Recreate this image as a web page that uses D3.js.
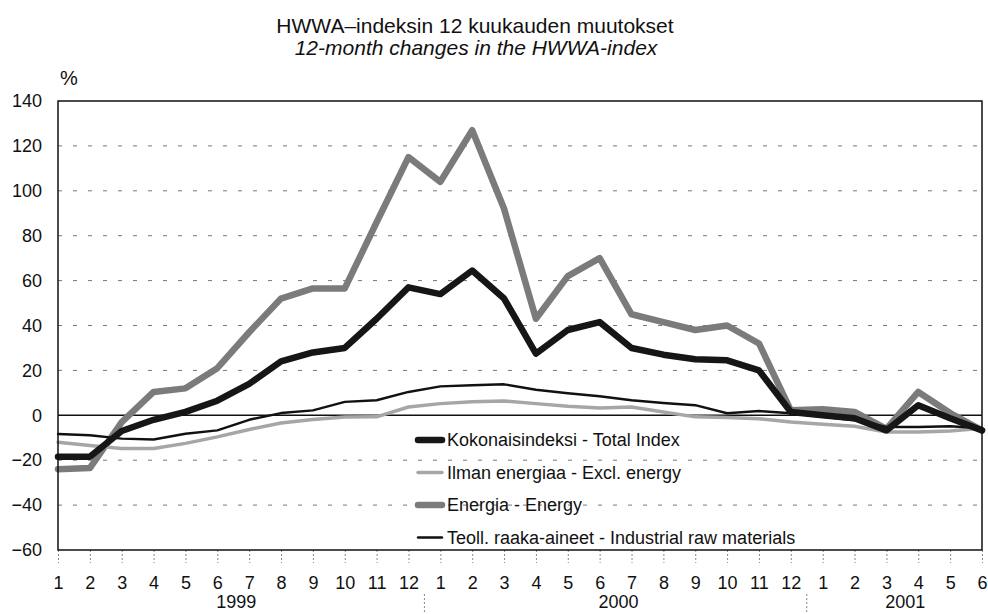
<!DOCTYPE html>
<html>
<head>
<meta charset="utf-8">
<script src="https://cdn.jsdelivr.net/npm/d3@7"></script>
<style>
  body { margin: 0; background: #fff; }
  text { font-family: "Liberation Sans", Arial, sans-serif; fill: #111; }
</style>
</head>
<body>
<div id="chart_div"></div>
<script>
// month labels along the x axis, 1999-01 .. 2001-06
var monthLabels = ["1","2","3","4","5","6","7","8","9","10","11","12",
                   "1","2","3","4","5","6","7","8","9","10","11","12",
                   "1","2","3","4","5","6"];
var years = ["1999", "2000", "2001"];
var yearStart = [0, 12, 24], yearEnd = [11, 23, 29];
var yTicks = [-60, -40, -20, 0, 20, 40, 60, 80, 100, 120, 140];

// 12-month changes, %
var total = [-18.5,-18.5,-7,-2,1.5,6.5,14,24,28,30,43,57,
             54,64.5,52,27.5,38,41.5,30,27,25,24.5,20,1.5,
             0,-1.3,-6.7,4.5,-1.3,-6.7];
var exclEnergy = [-12,-13.5,-14.8,-14.8,-12.5,-9.6,-6.3,-3.4,-1.9,-0.8,-0.7,3.7,
                  5.2,6,6.4,5.2,4,3.3,3.7,1.5,-0.7,-1,-1.5,-3,
                  -4,-4.9,-7.4,-7.4,-7,-5.8];
var energy = [-24,-23.5,-3,10.4,12,21,37,52,56.5,56.5,86,115,
              104,127,92,43,62,70,45,41.5,38,40,32,2.2,
              2.7,1.5,-6,10.4,1,-6.7];
var industrial = [-8.3,-8.9,-10.4,-10.8,-8.2,-6.7,-2,1,2.2,6,6.7,10.4,
                  12.9,13.4,13.8,11.4,9.8,8.5,6.7,5.5,4.5,0.9,1.9,0.9,
                  -0.7,-2.2,-5.2,-5.2,-4.9,-5.8];

var seriesNames = ["Kokonaisindeksi - Total Index",
                   "Ilman energiaa - Excl. energy",
                   "Energia - Energy",
                   "Teoll. raaka-aineet - Industrial raw materials"];

var W = 988, H = 614;
var margin = {top: 101, right: 6, bottom: 64, left: 58};
var width = W - margin.left - margin.right,
    height = H - margin.top - margin.bottom;

var svg = d3.select("#chart_div")
    .append("svg")
    .attr("width", W)
    .attr("height", H);

var g = svg.append("g")
    .attr("transform", "translate(" + margin.left + "," + margin.top + ")");

var x = d3.scaleLinear().domain([0, monthLabels.length - 1]).range([0, width]);
var y = d3.scaleLinear().domain([-60, 140]).range([height, 0]);

//////////////////////////// titles ////////////////////////////
svg.append("text")
    .attr("x", 475).attr("y", 33)
    .style("text-anchor", "middle")
    .style("font-size", "21px")
    .text("HWWA\u2013indeksin 12 kuukauden muutokset");

svg.append("text")
    .attr("x", 476).attr("y", 55)
    .style("text-anchor", "middle")
    .style("font-size", "21px")
    .style("font-style", "italic")
    .text("12-month changes in the HWWA-index");

svg.append("text")
    .attr("x", 60).attr("y", 85)
    .style("font-size", "20px")
    .text("%");

//////////////////////////// grid ////////////////////////////
g.selectAll(".grid")
    .data(yTicks.filter(function(d) { return d != 0 && d != -60 && d != 140; }))
    .enter().append("line")
    .attr("class", "grid")
    .attr("x1", 0).attr("x2", width)
    .attr("y1", function(d) { return y(d); })
    .attr("y2", function(d) { return y(d); })
    .style("stroke", "#777")
    .style("stroke-width", 1)
    .style("stroke-dasharray", "4,11");

g.append("line")
    .attr("x1", 0).attr("x2", width)
    .attr("y1", y(0)).attr("y2", y(0))
    .style("stroke", "#111")
    .style("stroke-width", 1.5);

//////////////////////////// axes ////////////////////////////
var yAxis = d3.axisLeft(y).tickValues(yTicks).tickSize(0).tickPadding(16);
var yg = g.append("g").call(yAxis);
yg.select(".domain").remove();
yg.selectAll("text").style("font-size", "18px").attr("font-family", null);

var xAxis = d3.axisBottom(x)
    .tickValues(d3.range(monthLabels.length))
    .tickFormat(function(i) { return monthLabels[i]; })
    .tickSize(13).tickPadding(13);
var xg = g.append("g").attr("transform", "translate(0," + height + ")").call(xAxis);
xg.select(".domain").remove();
xg.selectAll("line").style("stroke", "#888").style("stroke-dasharray", "2,2");
xg.selectAll("text").style("font-size", "18px").attr("font-family", null);

// year labels and separators
g.selectAll(".year")
    .data(years)
    .enter().append("text")
    .attr("class", "year")
    .attr("x", function(d, i) { return (x(yearStart[i]) + x(yearEnd[i])) / 2 + 3; })
    .attr("y", height + 58)
    .style("text-anchor", "middle")
    .style("font-size", "18px")
    .text(function(d) { return d; });

g.selectAll(".sep")
    .data([11.5, 23.5])
    .enter().append("line")
    .attr("x1", function(d) { return x(d); })
    .attr("x2", function(d) { return x(d); })
    .attr("y1", height + 44).attr("y2", H - margin.top)
    .style("stroke", "#888")
    .style("stroke-dasharray", "2,2");

//////////////////////////// series ////////////////////////////
var line = d3.line()
    .x(function(d, i) { return x(i); })
    .y(function(d) { return y(d); });

var series = [
  {name: seriesNames[2], values: energy,     color: "#7b7b7b", w: 6.5},
  {name: seriesNames[1], values: exclEnergy, color: "#a6a6a6", w: 3.5},
  {name: seriesNames[3], values: industrial, color: "#111",    w: 2.4},
  {name: seriesNames[0], values: total,      color: "#161616", w: 6.5}
];

g.selectAll(".series")
    .data(series)
    .enter().append("path")
    .attr("class", "series")
    .attr("d", function(d) { return line(d.values); })
    .style("fill", "none")
    .style("stroke", function(d) { return d.color; })
    .style("stroke-width", function(d) { return d.w; })
    .style("stroke-linejoin", "round")
    .style("stroke-linecap", "round");

// frame
g.append("rect")
    .attr("x", 0).attr("y", 0)
    .attr("width", width).attr("height", height)
    .style("fill", "none")
    .style("stroke", "#111")
    .style("stroke-width", 1.5);

//////////////////////////// legend ////////////////////////////
var legendItems = [series[3], series[1], series[0], series[2]];
var legend = svg.selectAll(".legend")
    .data(legendItems)
    .enter().append("g")
    .attr("class", "legend")
    .attr("transform", function(d, i) { return "translate(418," + (440 + i * 32.5) + ")"; });

legend.append("line")
    .attr("x1", 0).attr("x2", 24)
    .style("stroke", function(d) { return d.color; })
    .style("stroke-width", function(d) { return d.w; })
    .style("stroke-linecap", "round");

legend.append("text")
    .attr("x", 29)
    .attr("dy", "0.35em")
    .style("font-size", "18px")
    .text(function(d) { return d.name; });
</script>
</body>
</html>
